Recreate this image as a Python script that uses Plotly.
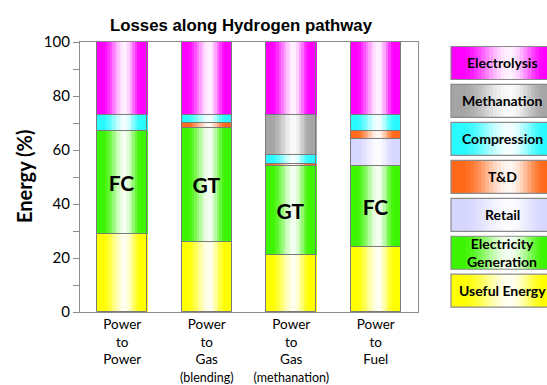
import plotly.graph_objects as go

# ---------------- data ----------------
categories = ["P2P", "P2G blending", "P2G methanation", "P2F"]
tick_labels = [
    "Power<br>to<br>Power",
    "Power<br>to<br>Gas<br><span style='font-size:12.5px'>(blending)</span>",
    "Power<br>to<br>Gas<br><span style='font-size:12.5px'>(methanation)</span>",
    "Power<br>to<br>Fuel",
]
series_names = ["Useful Energy", "Electricity Generation", "Retail", "T&D",
                "Compression", "Methanation", "Electrolysis"]
useful_energy = [29, 26, 21, 24]
electricity_generation = [38, 42, 33, 30]
retail = [0, 0, 0, 10]
t_and_d = [0, 2, 1, 3]
compression = [6, 3, 3, 6]
methanation = [0, 0, 15, 0]
electrolysis = [27, 27, 27, 27]
gen_labels = ["FC", "GT", "GT", "FC"]
y_ticks = [0, 10, 20, 30, 40, 50, 60, 70, 80, 90, 100]
y_tick_text = ["0", "", "20", "", "40", "", "60", "", "80", "", "100"]
legend_order = ["Electrolysis", "Methanation", "Compression", "T&D", "Retail",
                "Electricity<br>Generation", "Useful Energy"]

# ---------------- styles ----------------
colors = {
    "Useful Energy": (255, 255, 0),
    "Electricity Generation": (60, 245, 0),
    "Retail": (214, 214, 255),
    "T&D": (255, 105, 25),
    "Compression": (40, 250, 255),
    "Methanation": (165, 165, 165),
    "Electrolysis": (255, 0, 255),
}
legend_colors = {
    "Electrolysis": colors["Electrolysis"],
    "Methanation": colors["Methanation"],
    "Compression": colors["Compression"],
    "T&D": colors["T&D"],
    "Retail": colors["Retail"],
    "Electricity<br>Generation": colors["Electricity Generation"],
    "Useful Energy": colors["Useful Energy"],
}
values = [useful_energy, electricity_generation, retail, t_and_d,
          compression, methanation, electrolysis]

FONT = "Lato"
BAR_W = 0.59
N_SLICES = 20
EDGE = "#7a7a7a"


def whiteness(t):
    peak = 0.55
    lo, hi = 0.10, 0.88
    if t <= lo or t >= hi:
        return 0.0
    if t < peak:
        u = (t - lo) / (peak - lo)
    else:
        u = (hi - t) / (hi - peak)
    u = u * u * (3 - 2 * u)
    return 0.95 * u


def mix(rgb, w):
    r, g, b = rgb
    return "rgb(%d,%d,%d)" % (r + (255 - r) * w, g + (255 - g) * w, b + (255 - b) * w)


fig = go.Figure()

# gradient slices
bases = [0, 0, 0, 0]
segment_bases = []
for name, vals in zip(series_names, values):
    segment_bases.append(list(bases))
    for i in range(N_SLICES):
        t = (i + 0.5) / N_SLICES
        fig.add_trace(go.Bar(
            x=categories, y=vals, base=list(bases),
            width=BAR_W / N_SLICES * 1.15,
            offset=-BAR_W / 2 + i * BAR_W / N_SLICES,
            marker=dict(color=mix(colors[name], whiteness(t)), line=dict(width=0)),
            showlegend=False, hoverinfo="skip",
        ))
    bases = [b + v for b, v in zip(bases, vals)]

# outlines (and FC / GT labels on the generation segment)
for name, vals, base in zip(series_names, values, segment_bases):
    yv = [v if v > 0 else None for v in vals]
    kw = {}
    if name == "Electricity Generation":
        kw = dict(text=gen_labels, textposition="inside", insidetextanchor="middle",
                  textangle=0,
                  textfont=dict(family=FONT, size=21, color="black", weight="bold"))
    fig.add_trace(go.Bar(
        x=categories, y=yv, base=base, width=BAR_W, offset=-BAR_W / 2,
        marker=dict(color="rgba(0,0,0,0)", line=dict(color=EDGE, width=1)),
        showlegend=False, name=name, **kw,
    ))

# ---------------- custom legend boxes ----------------
L, R, T, B = 80, 418, 42, 312
pw, ph = R - L, B - T


def px2x(px):
    return (px - L) / pw


def py2y(py):
    return (B - py) / ph


shapes = []
annotations = []
box_x0, box_x1 = 451, 558
box_top0, box_h, box_step = 46.5, 33, 37.95
n_leg = 28
for k, lname in enumerate(legend_order):
    top = box_top0 + k * box_step
    bot = top + box_h
    for i in range(n_leg):
        t = (i + 0.5) / n_leg
        xa = box_x0 + i * (box_x1 - box_x0) / n_leg
        xb = box_x0 + (i + 1.15) * (box_x1 - box_x0) / n_leg
        shapes.append(dict(type="rect", xref="paper", yref="paper",
                           x0=px2x(xa), x1=px2x(min(xb, box_x1)),
                           y0=py2y(bot), y1=py2y(top),
                           fillcolor=mix(legend_colors[lname], whiteness(t)),
                           line=dict(width=0), layer="above"))
    shapes.append(dict(type="rect", xref="paper", yref="paper",
                       x0=px2x(box_x0), x1=px2x(box_x1),
                       y0=py2y(bot), y1=py2y(top),
                       fillcolor="rgba(0,0,0,0)",
                       line=dict(color="#8a8a8a", width=1.2), layer="above"))
    annotations.append(dict(text="<b>%s</b>" % lname, xref="paper", yref="paper",
                            x=px2x(502), y=py2y((top + bot) / 2),
                            xanchor="center", yanchor="middle", showarrow=False,
                            font=dict(family=FONT, size=14, color="black"),
                            align="center"))

# title and y-axis title
annotations.append(dict(text="<b>Losses along Hydrogen pathway</b>", xref="paper", yref="paper",
                        x=px2x(241), y=py2y(25), xanchor="center", yanchor="middle",
                        showarrow=False,
                        font=dict(family="Liberation Sans, Arial", size=16.8, color="black")))
annotations.append(dict(text="<b>Energy (%)</b>", xref="paper", yref="paper",
                        x=px2x(24), y=py2y(176), xanchor="center", yanchor="middle",
                        textangle=-90, showarrow=False,
                        font=dict(family=FONT, size=20, color="black")))

fig.update_layout(
    width=547, height=385,
    margin=dict(l=L, r=547 - R, t=T, b=385 - B, autoexpand=False),
    paper_bgcolor="white", plot_bgcolor="white",
    barmode="overlay", bargap=0,
    shapes=shapes, annotations=annotations,
    showlegend=False,
    font=dict(family=FONT, color="black"),
)
fig.update_xaxes(
    type="category", categoryorder="array", categoryarray=categories,
    range=[-0.5, 3.5], tickvals=categories, ticktext=tick_labels,
    tickfont=dict(family=FONT, size=13.5, color="black"),
    showline=True, mirror=True, linecolor="#8c8c8c", linewidth=1.3,
    ticks="", showgrid=False, zeroline=False,
)
fig.update_yaxes(
    range=[0, 100], tickvals=y_ticks, ticktext=y_tick_text,
    tickfont=dict(family=FONT, size=15, color="black"),
    ticks="outside", ticklen=6, tickcolor="#8c8c8c",
    showline=True, mirror=True, linecolor="#8c8c8c", linewidth=1.3,
    showgrid=False, zeroline=False,
)

fig.write_html("out.html",
               config={"displayModeBar": False},
               post_script="document.body.style.margin='0';document.body.style.overflow='hidden';")
